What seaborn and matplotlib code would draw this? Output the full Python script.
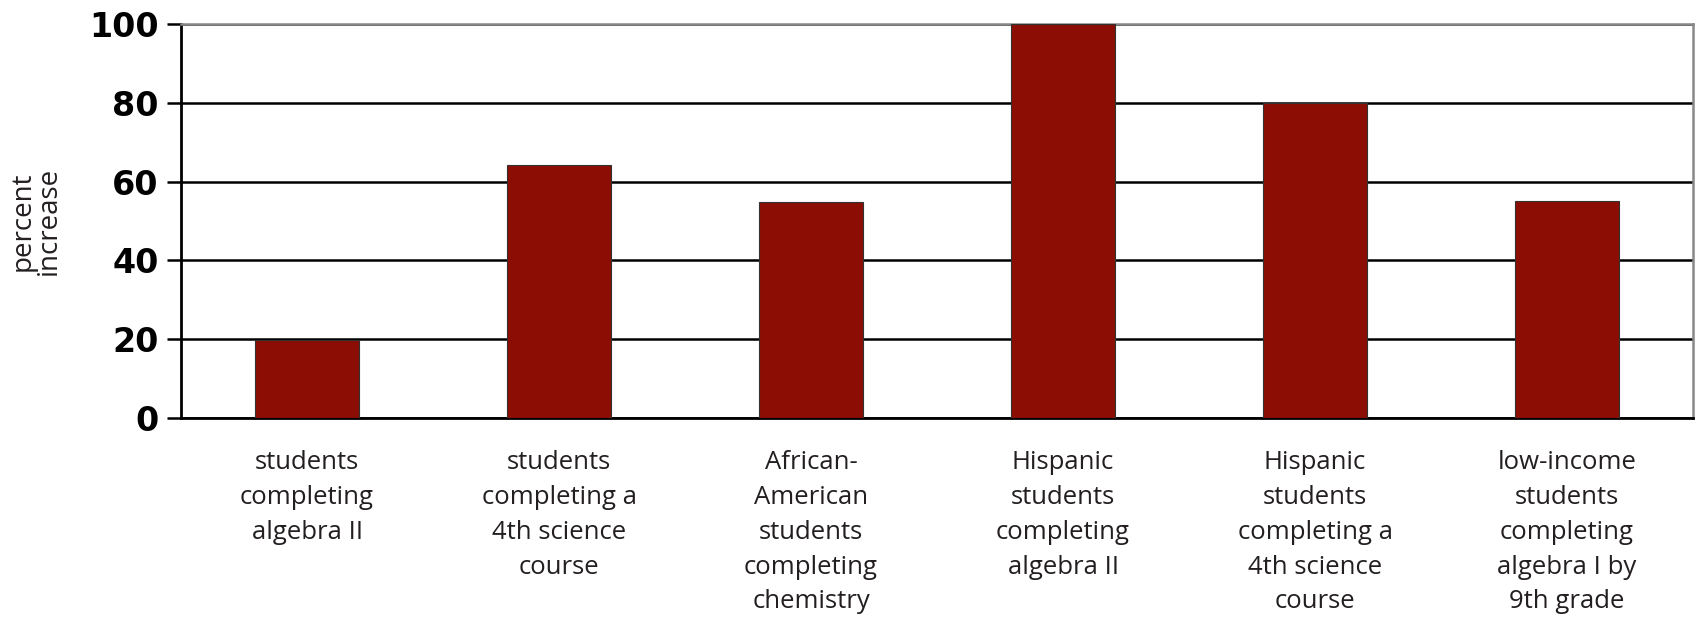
import matplotlib
matplotlib.use("Agg")
import matplotlib.pyplot as plt
import seaborn as sns
import pandas as pd
import numpy as np

# --- data ---
categories = [
    "students\ncompleting\nalgebra II",
    "students\ncompleting a\n4th science\ncourse",
    "African-\nAmerican\nstudents\ncompleting\nchemistry",
    "Hispanic\nstudents\ncompleting\nalgebra II",
    "Hispanic\nstudents\ncompleting a\n4th science\ncourse",
    "low-income\nstudents\ncompleting\nalgebra I by\n9th grade",
]
values = [19.8, 64.3, 54.7, 100, 80, 55.2]
y_ticks = [0, 20, 40, 60, 80, 100]

df = pd.DataFrame({"category": categories, "value": values})

sns.set_style("white")
plt.rcParams["font.family"] = ["Open Sans", "DejaVu Sans"]

fig = plt.figure(figsize=(16.97, 6.2), dpi=100)
ax = fig.add_axes([0.1067, 0.3258, 0.891, 0.6355])

sns.barplot(data=df, x="category", y="value", color="#8B0D03", width=0.41,
            saturation=1, edgecolor="#333333", linewidth=0.8, ax=ax, zorder=3)

ax.set_ylim(0, 100)
ax.set_xlim(-0.5, len(categories) - 0.5)
ax.set_yticks(y_ticks)
ax.set_yticklabels([str(t) for t in y_ticks], fontsize=24, fontweight="bold",
                   family=["DejaVu Sans"], color="black")
ax.yaxis.grid(True, color="black", linewidth=1.8, zorder=0)
ax.set_axisbelow(True)

# category labels at centers, ticks at boundaries
ax.set_xticks(range(len(categories)))
ax.set_xticklabels(categories, fontsize=18.5, color="#231F20", linespacing=1.52,
                   va="top")
ax.tick_params(axis="x", which="major", length=0, pad=23)
ax.set_xticks(np.arange(-0.5, len(categories)), minor=True)
ax.tick_params(axis="x", which="minor", length=8, width=1.8, color="black")
ax.tick_params(axis="y", length=10, width=1.8, color="black", pad=6, direction="out")
ax.tick_params(axis="both", left=True, bottom=True)

for side in ["left", "bottom"]:
    ax.spines[side].set_color("black")
    ax.spines[side].set_linewidth(2)
for side in ["top", "right"]:
    ax.spines[side].set_visible(True)
    ax.spines[side].set_color("#888888")
    ax.spines[side].set_linewidth(1.8)

ax.set_xlabel("")
ax.set_ylabel("percent\nincrease", fontsize=20, color="#231F20", linespacing=0.95)
ax.yaxis.set_label_coords(-0.078, 0.5)

plt.savefig("out.png", dpi=100)
